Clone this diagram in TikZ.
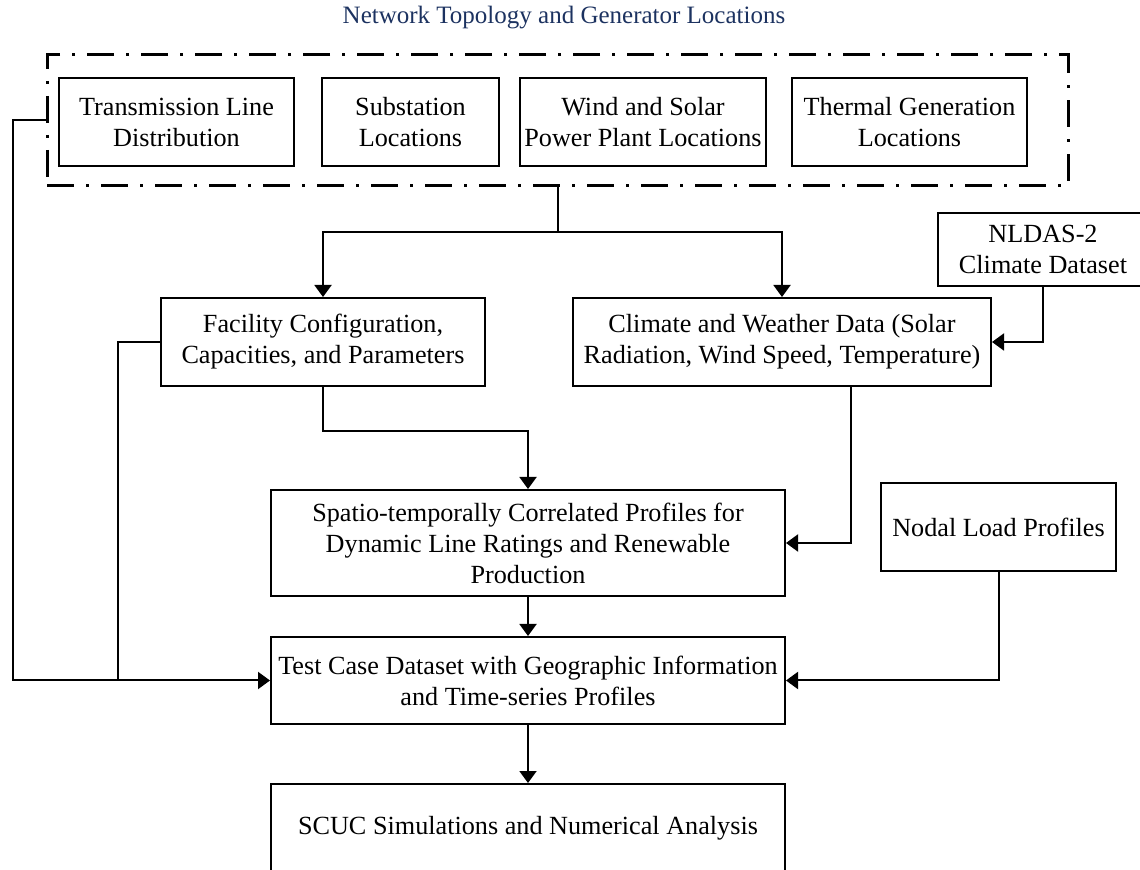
\documentclass[tikz,border=0pt]{standalone}
\usepackage{fontspec}
\setmainfont{Liberation Serif}
\usetikzlibrary{arrows.meta}
\definecolor{titleblue}{RGB}{28,50,96}
\begin{document}
\begin{tikzpicture}[x=0.5pt,y=-0.5pt,
  box/.style={draw, line width=1pt, align=center, inner sep=0pt,
    font=\fontsize{13.1pt}{15.5pt}\selectfont},
  grp/.style={draw, line width=1.5pt, inner sep=0pt,
    dash pattern=on 13.5pt off 6pt on 1.5pt off 6pt},
  conn/.style={line width=1pt},
  arr/.style={line width=1pt, -{Triangle[width=8.5pt,length=6pt]}}]
\useasboundingbox (0,0) rectangle (1140,870);

\node[text=titleblue, font=\fontsize{12.5pt}{15.5pt}\selectfont] (title) at (564,18) {Network Topology and Generator Locations};

\node[grp, minimum width=510.5pt, minimum height=65.5pt] (top) at (557.5,120.5) {};
\node[box, minimum width=117.5pt, minimum height=44pt] (tld) at (176.5,122) {Transmission Line\\Distribution};
\node[box, minimum width=88.5pt, minimum height=44pt] (sub) at (410.5,122) {Substation\\Locations};
\node[box, minimum width=123pt, minimum height=44pt] (ws) at (643,122) {Wind and Solar\\Power Plant Locations};
\node[box, minimum width=117.5pt, minimum height=44pt] (th) at (909.5,122) {Thermal Generation\\Locations};

\node[box, minimum width=105pt, minimum height=36.5pt] (nld) at (1043,249.5) {NLDAS-2\\Climate Dataset};
\node[box, minimum width=162pt, minimum height=44pt] (fac) at (323,342) {Facility Configuration,\\Capacities, and Parameters};
\node[box, minimum width=209pt, minimum height=44pt] (cli) at (782,342) {Climate and Weather Data (Solar\\Radiation, Wind Speed, Temperature)};
\node[box, minimum width=257pt, minimum height=53pt] (spa) at (528,543) {Spatio-temporally Correlated Profiles for\\Dynamic Line Ratings and Renewable\\Production};
\node[box, minimum width=117.5pt, minimum height=44pt] (nod) at (998.5,527) {Nodal Load Profiles};
\node[box, minimum width=257pt, minimum height=43.5pt] (tst) at (528,680.5) {Test Case Dataset with Geographic Information\\and Time-series Profiles};
\node[box, minimum width=257pt, minimum height=44pt] (scu) at (528,828) {SCUC Simulations and Numerical Analysis};

\coordinate (lft) at (13,680.5);
\coordinate (fl) at (118,680.5);
\coordinate (br) at (557.5,232);
\coordinate (fb) at (323,431);

\draw[arr] (top.west) -| (lft) -- (tst.west);
\draw[conn] (fac.west) -| (fl);
\draw[conn] (top.south) -- (br);
\draw[arr] (br) -| (fac.north);
\draw[arr] (br) -| (cli.north);
\draw[arr] (nld.south) |- (cli.east);
\draw[arr] (fac.south) -- (fb) -| (spa.north);
\draw[arr] ([xshift=34.5pt]cli.south) |- (spa.east);
\draw[arr] (nod.south) |- (tst.east);
\draw[arr] (spa.south) -- (tst.north);
\draw[arr] (tst.south) -- (scu.north);
\end{tikzpicture}
\end{document}
